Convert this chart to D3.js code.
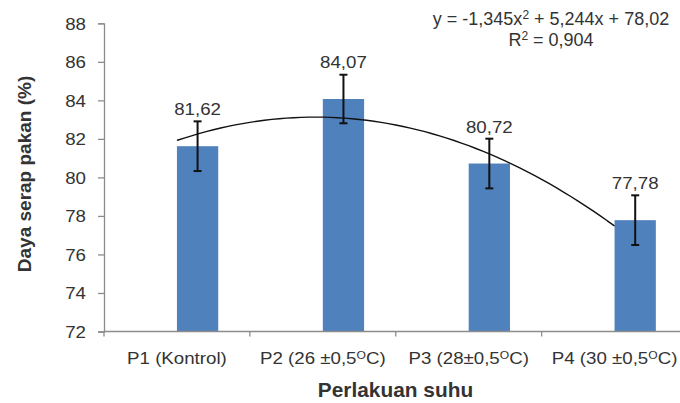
<!DOCTYPE html>
<html><head><meta charset="utf-8">
<script src="https://cdn.jsdelivr.net/npm/d3@7"></script>
<style>
html,body{margin:0;padding:0;background:#fff;}
svg{display:block;}
text{font-family:"Liberation Sans",Arial,sans-serif;fill:#333;}
</style></head>
<body>
<svg id="c" width="680" height="403"></svg>
<script>
const categories = ["P1 (Kontrol)", "P2 (26 ±0,5OC)", "P3 (28±0,5OC)", "P4 (30 ±0,5OC)"];
const values = [81.62, 84.07, 80.72, 77.78];
const valueLabels = ["81,62", "84,07", "80,72", "77,78"];
const errors = [1.29, 1.26, 1.29, 1.29];
const yTicks = [72, 74, 76, 78, 80, 82, 84, 86, 88];
const trendCoef = [-1.345, 5.244, 78.02]; // a x^2 + b x + c
const equationLines = ["y = -1,345x|2| + 5,244x + 78,02", "R|2| = 0,904"];

const svg = d3.select("#c");
const SX = 1.1;
const x = d3.scaleBand().domain(categories).range([104, 687.5]).padding(0);
const y = d3.scaleLinear().domain([72, 88]).range([331.5, 23.3]);
const bw = x.bandwidth();
const barW = bw * 0.283;
const axisColor = "#8c8c8c";

// bars
svg.append("g").selectAll("rect").data(values).join("rect")
  .attr("x", (d, i) => x(categories[i]) + bw / 2)
  .attr("width", barW)
  .attr("y", d => y(d))
  .attr("height", d => y(72) - y(d))
  .attr("fill", "#4F81BD");

// error bars
const eg = svg.append("g").attr("stroke", "#111").attr("stroke-width", 2);
values.forEach((v, i) => {
  const cx = x(categories[i]) + bw / 2 + barW / 2;
  eg.append("line").attr("x1", cx).attr("x2", cx).attr("y1", y(v + errors[i])).attr("y2", y(v - errors[i]));
  [v + errors[i], v - errors[i]].forEach(e => {
    eg.append("line").attr("x1", cx - 4).attr("x2", cx + 4).attr("y1", y(e)).attr("y2", y(e));
  });
});

// trendline
const tx = d3.scaleLinear().domain([1, 4]).range([x(categories[0]) + bw / 2, x(categories[3]) + bw / 2]);
const pts = d3.range(1, 4.0001, 0.05).map(t => [t, trendCoef[0] * t * t + trendCoef[1] * t + trendCoef[2]]);
svg.append("path").datum(pts)
  .attr("d", d3.line().x(d => tx(d[0])).y(d => y(d[1])).curve(d3.curveBasis))
  .attr("fill", "none").attr("stroke", "#111").attr("stroke-width", 1.4);

// value labels
svg.append("g").selectAll("text").data(values).join("text")
  .attr("transform", (d, i) => `translate(${x(categories[i]) + bw / 2 + barW / 2},${y(d) - 31}) scale(${SX},1)`)
  .attr("text-anchor", "middle").attr("font-size", 17)
  .text((d, i) => valueLabels[i]);

// y axis
const ya = svg.append("g").attr("transform", "translate(104,0)")
  .call(d3.axisLeft(y).tickValues(yTicks).tickSize(6).tickPadding(0).tickFormat(d3.format("d")));
ya.select(".domain").attr("stroke", axisColor).attr("stroke-width", 1.3);
ya.selectAll(".tick line").attr("stroke", axisColor).attr("stroke-width", 1.3);
ya.selectAll(".tick text").attr("x", null).attr("dy", null)
  .attr("transform", `translate(-18,6) scale(${SX},1)`)
  .attr("font-size", 17).attr("font-family", "Liberation Sans, Arial, sans-serif").attr("fill", "#333");

// x axis
const xa = svg.append("g").attr("transform", "translate(0,331.5)");
xa.append("line").attr("x1", 104).attr("x2", 680).attr("y1", 0).attr("y2", 0)
  .attr("stroke", axisColor).attr("stroke-width", 1.3);
categories.forEach(c => {
  xa.append("line").attr("x1", x(c)).attr("x2", x(c)).attr("y1", 0).attr("y2", 5)
    .attr("stroke", axisColor).attr("stroke-width", 1.3);
  const t = xa.append("text")
    .attr("transform", `translate(${x(c) + bw / 2},32.5) scale(${SX},1)`)
    .attr("text-anchor", "middle").attr("font-size", 17);
  const k = c.indexOf("OC)");
  if (k >= 0) {
    t.append("tspan").text(c.slice(0, k));
    t.append("tspan").attr("font-size", 11).attr("dy", -5).text("O");
    t.append("tspan").attr("dy", 5).text(c.slice(k + 1));
  } else t.text(c);
});

// axis titles
svg.append("text")
  .attr("transform", `translate(395.5,396.5) scale(1.07,1)`)
  .attr("text-anchor", "middle").attr("font-size", 19.5).attr("font-weight", "bold")
  .attr("fill", "#111").text("Perlakuan suhu");
svg.append("text")
  .attr("transform", "translate(31,174) rotate(-90)")
  .attr("text-anchor", "middle").attr("font-size", 19).attr("font-weight", "bold")
  .attr("fill", "#111").text("Daya serap pakan (%)");

// equation
equationLines.forEach((ln, i) => {
  const t = svg.append("text")
    .attr("transform", `translate(551,${24.5 + i * 21.5})`)
    .attr("text-anchor", "middle").attr("font-size", 18)
    .attr("font-family", "Lato, 'Open Sans', sans-serif").attr("fill", "#222");
  const parts = ln.split("|");
  parts.forEach((p, j) => {
    if (j % 2 === 1) t.append("tspan").attr("font-size", 12).attr("dy", -6).text(p);
    else t.append("tspan").attr("dy", j > 0 ? 6 : 0).text(p);
  });
});
</script>
</body></html>
